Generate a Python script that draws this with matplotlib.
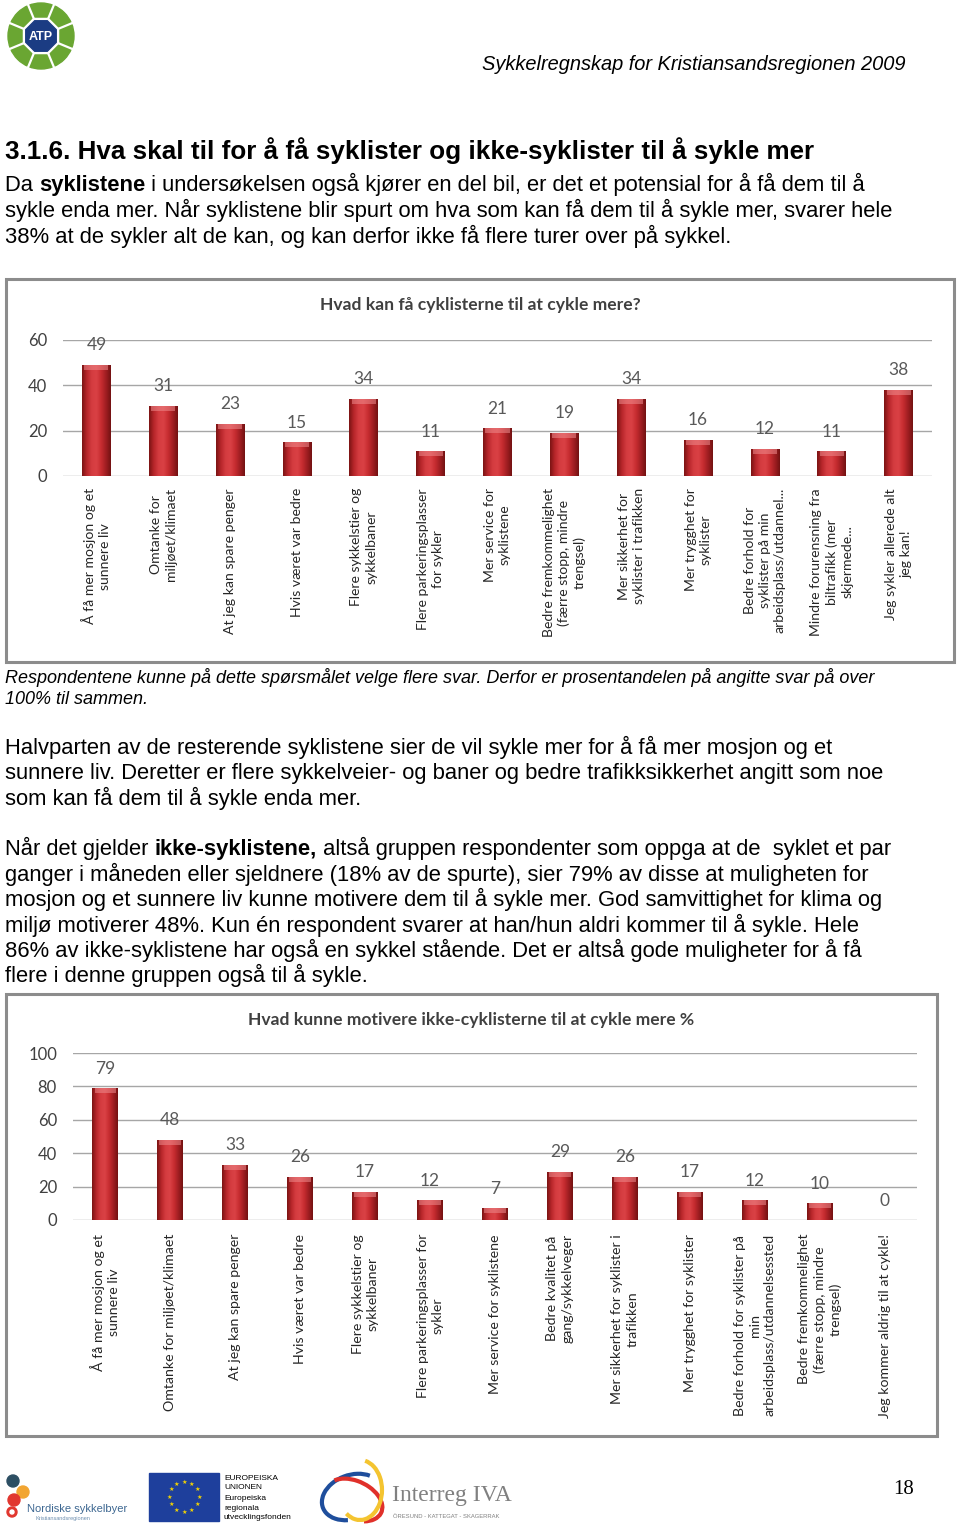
import matplotlib
matplotlib.use('Agg')
import matplotlib.pyplot as plt
import numpy as np
from matplotlib.patches import Rectangle, Circle, RegularPolygon, Arc
from matplotlib.colors import LinearSegmentedColormap

# ---------------- data ----------------
chart1_title = "Hvad kan få cyklisterne til at cykle mere?"
chart1_categories = [
    "Å få mer mosjon og et\nsunnere liv",
    "Omtanke for\nmiljøet/klimaet",
    "At jeg kan spare penger",
    "Hvis været var bedre",
    "Flere sykkelstier og\nsykkelbaner",
    "Flere parkeringsplasser\nfor sykler",
    "Mer service for\nsyklistene",
    "Bedre fremkommelighet\n(færre stopp, mindre\ntrengsel)",
    "Mer sikkerhet for\nsyklister i trafikken",
    "Mer trygghet for\nsyklister",
    "Bedre forhold for\nsyklister på min\narbeidsplass/utdannel...",
    "Mindre forurensning fra\nbiltrafikk (mer\nskjermede...",
    "Jeg sykler allerede alt\njeg kan!",
]
chart1_values = [49, 31, 23, 15, 34, 11, 21, 19, 34, 16, 12, 11, 38]
chart1_yticks = [0, 20, 40, 60]

chart2_title = "Hvad kunne motivere ikke-cyklisterne til at cykle mere %"
chart2_categories = [
    "Å få mer mosjon og et\nsunnere liv",
    "Omtanke for miljøet/klimaet",
    "At jeg kan spare penger",
    "Hvis været var bedre",
    "Flere sykkelstier og\nsykkelbaner",
    "Flere parkeringsplasser for\nsykler",
    "Mer service for syklistene",
    "Bedre kvalitet på\ngang/sykkelveger",
    "Mer sikkerhet for syklister i\ntrafikken",
    "Mer trygghet for syklister",
    "Bedre forhold for syklister på\nmin\narbeidsplass/utdannelsessted",
    "Bedre fremkommelighet\n(færre stopp, mindre\ntrengsel)",
    "Jeg kommer aldrig til at cykle!",
]
chart2_values = [79, 48, 33, 26, 17, 12, 7, 29, 26, 17, 12, 10, 0]
chart2_yticks = [0, 20, 40, 60, 80, 100]

# ---------------- figure ----------------
W, H = 960, 1527
fig = plt.figure(figsize=(9.6, 15.27), dpi=100)
fig.patch.set_facecolor('white')
bg = fig.add_axes([0, 0, 1, 1], zorder=0)
bg.set_xlim(0, W)
bg.set_ylim(H, 0)
bg.axis('off')
renderer = fig.canvas.get_renderer()

BODY = 'Liberation Sans'
CHART = 'Lato'
BODY_SIZE = 15.8


def fx(x):
    return x / W


def fy(y):
    return 1 - y / H


def text_width(s, **kw):
    t1 = bg.text(0, 0, '|' + s + '|', **kw)
    t2 = bg.text(0, 0, '||', **kw)
    w = t1.get_window_extent(renderer).width - t2.get_window_extent(renderer).width
    t1.remove()
    t2.remove()
    return w


def rich_line(x, y, parts, size=BODY_SIZE, style='normal'):
    for s, bold in parts:
        kw = dict(fontsize=size, family=BODY, fontweight='bold' if bold else 'normal',
                  fontstyle=style, color='black')
        bg.text(x, y, s, va='baseline', ha='left', **kw)
        x += text_width(s, **kw)


# ---------------- header ----------------
cx, cy = 41, 36
bg.add_patch(Circle((cx, cy), 33, color='#6aa632', zorder=2))
for k in range(8):
    a = np.deg2rad(22.5 + 45 * k)
    bg.plot([cx + 17 * np.cos(a), cx + 34 * np.cos(a)], [cy + 17 * np.sin(a), cy + 34 * np.sin(a)],
            color='white', lw=1.6, zorder=3)
bg.add_patch(RegularPolygon((cx, cy), 8, radius=19, orientation=np.pi / 8, color='white', zorder=3))
bg.add_patch(RegularPolygon((cx, cy), 8, radius=16.5, orientation=np.pi / 8, color='#1b3c83', zorder=4))
bg.text(cx, cy + 1, 'ATP', color='white', fontsize=9, fontweight='bold', family=BODY,
        ha='center', va='center', zorder=5)

bg.text(906, 70, 'Sykkelregnskap for Kristiansandsregionen 2009', family=BODY, fontstyle='italic',
        fontsize=14.4, ha='right', va='baseline')

bg.text(5, 159, '3.1.6. Hva skal til for å få syklister og ikke-syklister til å sykle mer',
        family=BODY, fontweight='bold', fontsize=18.7, ha='left', va='baseline')

rich_line(5, 191, [('Da ', False), ('syklistene', True),
                   (' i undersøkelsen også kjører en del bil, er det et potensial for å få dem til å', False)])
rich_line(5, 217, [('sykle enda mer. Når syklistene blir spurt om hva som kan få dem til å sykle mer, svarer hele', False)])
rich_line(5, 243, [('38% at de sykler alt de kan, og kan derfor ikke få flere turer over på sykkel.', False)])

rich_line(5, 683, [('Respondentene kunne på dette spørsmålet velge flere svar. Derfor er prosentandelen på angitte svar på over', False)], size=13, style='italic')
rich_line(5, 704, [('100% til sammen.', False)], size=13, style='italic')

rich_line(5, 754, [('Halvparten av de resterende syklistene sier de vil sykle mer for å få mer mosjon og et', False)])
rich_line(5, 779, [('sunnere liv. Deretter er flere sykkelveier- og baner og bedre trafikksikkerhet angitt som noe', False)])
rich_line(5, 805, [('som kan få dem til å sykle enda mer.', False)])

rich_line(5, 855, [('Når det gjelder ', False), ('ikke-syklistene,', True),
                   (' altså gruppen respondenter som oppga at de  syklet et par', False)])
rich_line(5, 881, [('ganger i måneden eller sjeldnere (18% av de spurte), sier 79% av disse at muligheten for', False)])
rich_line(5, 906, [('mosjon og et sunnere liv kunne motivere dem til å sykle mer. God samvittighet for klima og', False)])
rich_line(5, 932, [('miljø motiverer 48%. Kun én respondent svarer at han/hun aldri kommer til å sykle. Hele', False)])
rich_line(5, 957, [('86% av ikke-syklistene har også en sykkel stående. Det er altså gode muligheter for å få', False)])
rich_line(5, 982, [('flere i denne gruppen også til å sykle.', False)])

# ---------------- charts ----------------
bar_cmap = LinearSegmentedColormap.from_list(
    'bevel', ['#7c1414', '#b8262b', '#d43c40', '#da4145', '#c62c30', '#a01e22', '#741212'])
grad = np.linspace(0, 1, 64).reshape(1, -1)


def draw_chart(frame, plot_box, title, title_y, cats, vals, yticks, width, tick_pad_px,
               label_pad_px, label_size):
    x0f, y0f, x1f, y1f = frame
    bg.add_patch(Rectangle((x0f, y0f), x1f - x0f, y1f - y0f, fill=False,
                           edgecolor='#8c8c8c', lw=2.2, zorder=2))
    bg.text((x0f + x1f) / 2, title_y, title,
            family=CHART, fontweight='bold', fontsize=12.6, color='#404040', ha='center', va='center')
    l, t, r, b = plot_box
    ax = fig.add_axes([fx(l), fy(b), (r - l) / W, (b - t) / H], zorder=2)
    ax.patch.set_alpha(0)
    n = len(vals)
    xs = np.arange(n)
    ymax = yticks[-1]
    ax.set_xlim(-0.5, n - 0.5)
    ax.set_ylim(0, ymax)
    bars = ax.bar(xs, vals, width=width, color='#c0282d', edgecolor='none', zorder=3)
    px_per_unit = (b - t) / ymax
    for rect in bars:
        h = rect.get_height()
        if h <= 0:
            continue
        bx = rect.get_x()
        bw = rect.get_width()
        im = ax.imshow(grad, extent=(bx, bx + bw, 0, h), aspect='auto', cmap=bar_cmap,
                       zorder=3.5, interpolation='bilinear')
        im.set_clip_path(rect)
        hl = min(5 / px_per_unit, h * 0.5)
        ax.add_patch(Rectangle((bx + bw * 0.08, h - hl), bw * 0.84, hl, color='#ee8a8c',
                               alpha=0.55, zorder=4, lw=0))
    ax.set_xlim(-0.5, n - 0.5)
    ax.set_ylim(0, ymax)
    for xi, v in zip(xs, vals):
        ax.annotate(str(v), (xi, v), xytext=(0, 14), textcoords='offset points',
                    ha='center', va='center', fontsize=12.5, family=CHART, color='#595959',
                    annotation_clip=False)
    ax.set_yticks(yticks)
    ax.set_yticklabels([str(v) for v in yticks], family=CHART, fontsize=12, color='#404040')
    ax.set_xticks(xs)
    ax.set_xticklabels(cats, rotation=90, va='top', ha='center', multialignment='center',
                       family=CHART, fontsize=label_size, color='#262626', linespacing=1.3)
    ax.tick_params(axis='both', length=0)
    ax.tick_params(axis='y', pad=tick_pad_px * 0.72)
    ax.tick_params(axis='x', pad=label_pad_px * 0.72)
    ax.yaxis.grid(True, color='#a6a6a6', lw=1)
    ax.set_axisbelow(True)
    for s in ax.spines.values():
        s.set_visible(False)
    return ax


draw_chart((6, 279, 954, 662), (63, 340, 932, 476), chart1_title, 305,
           chart1_categories, chart1_values, chart1_yticks, 0.43, 16, 12, 10.1)
draw_chart((6, 994, 937, 1436), (73, 1053, 917, 1220), chart2_title, 1020,
           chart2_categories, chart2_values, chart2_yticks, 0.40, 16, 14, 10.2)

# ---------------- footer ----------------
bg.add_patch(Circle((13, 1481), 6, color='#2d4f63', zorder=2))
bg.add_patch(Circle((23, 1492), 6, color='#f2a531', zorder=2))
bg.add_patch(Circle((14, 1500), 6, color='#e1372f', zorder=2))
bg.add_patch(Circle((12, 1512), 5, color='#e1372f', zorder=2))
bg.add_patch(Circle((12, 1512), 2, color='white', zorder=3))
bg.text(27, 1512, 'Nordiske sykkelbyer', family=BODY, fontsize=8, color='#3d6791', va='baseline')
bg.text(36, 1520, 'Kristiansandsregionen', family=BODY, fontsize=4, color='#6d8fb0', va='baseline')

bg.add_patch(Rectangle((149, 1473), 70, 48, color='#1e3f9c', zorder=2))
for k in range(12):
    a = np.deg2rad(30 * k)
    bg.text(184 + 15 * np.cos(a), 1497 + 15 * np.sin(a), '★', color='#f5d400', fontsize=4.5,
            ha='center', va='center', family='DejaVu Sans', zorder=3)
for yy, s in zip([1480, 1489, 1500, 1510, 1519],
                 ['EUROPEISKA', 'UNIONEN', 'Europeiska', 'regionala', 'utvecklingsfonden']):
    bg.text(224, yy, s, family=BODY, fontsize=6, color='black', va='baseline')

bg.add_patch(Arc((352, 1497), 62, 44, angle=-20, theta1=120, theta2=330, color='#1f4e9c', lw=3))
bg.add_patch(Arc((354, 1500), 60, 38, angle=25, theta1=200, theta2=400, color='#e0302a', lw=3))
bg.add_patch(Arc((360, 1490), 44, 60, angle=0, theta1=-80, theta2=120, color='#f4c430', lw=3))
bg.text(392, 1501, 'Interreg IVA', family='Liberation Serif', fontsize=17, color='#808080', va='baseline')
bg.text(393, 1518, 'ÖRESUND - KATTEGAT - SKAGERRAK', family=BODY, fontsize=4.2, color='#808080', va='baseline')

bg.text(914, 1494, '18', family='Liberation Serif', fontsize=15, ha='right', va='baseline')

fig.savefig('out.png', dpi=100, facecolor='white')
